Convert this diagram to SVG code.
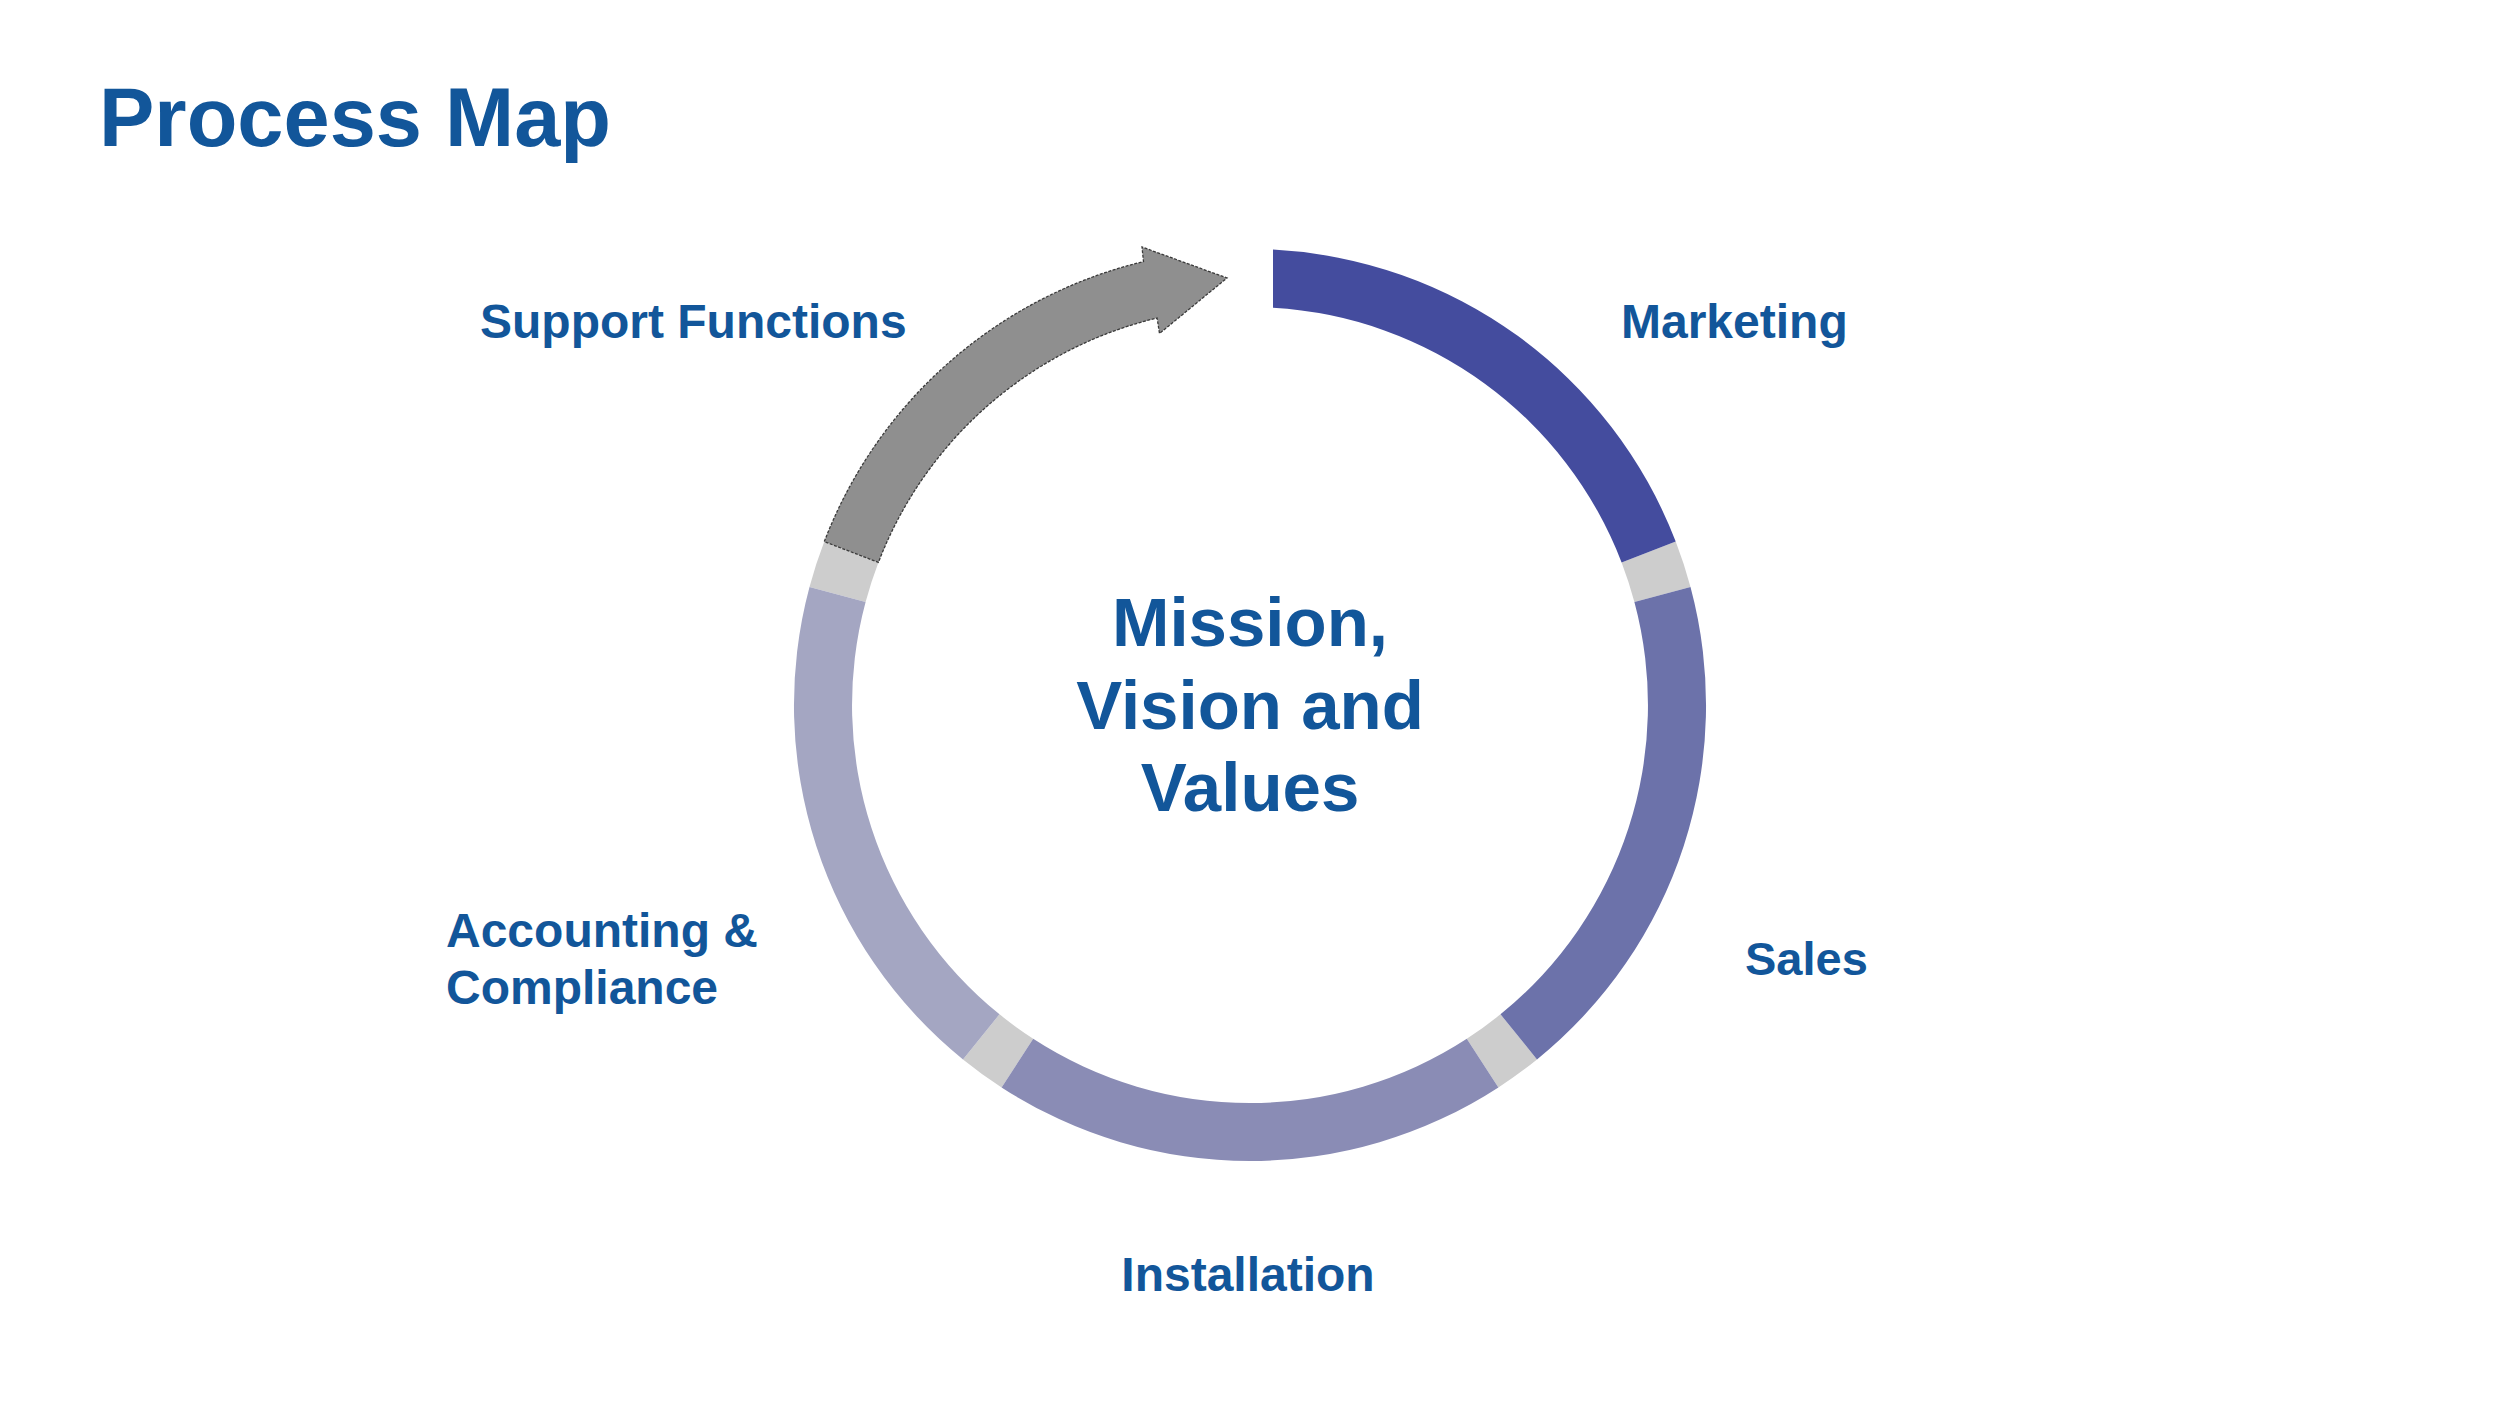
<svg xmlns="http://www.w3.org/2000/svg" width="2500" height="1407" viewBox="0 0 2500 1407">
<style>
.t{font-family:"Liberation Sans",Arial,sans-serif;font-weight:bold;fill:#12569A}
.lbl{font-size:48px}
.gap{fill:#CDCDCD}
</style>
<rect width="2500" height="1407" fill="#FFFFFF"/>
<text class="t" x="99" y="146" font-size="83">Process Map</text>
<g id="connectors">
<path class="gap" d="M1675.7,541.6 A456,456 0 0 1 1690.5,587.0 L1634.4,602.0 A398,398 0 0 0 1621.6,562.4 Z"/>
<path class="gap" d="M1537.0,1059.4 A456,456 0 0 1 1498.4,1087.4 L1466.8,1038.8 A398,398 0 0 0 1500.5,1014.3 Z"/>
<path class="gap" d="M1001.6,1087.4 A456,456 0 0 1 963.0,1059.4 L999.5,1014.3 A398,398 0 0 0 1033.2,1038.8 Z"/>
<path class="gap" d="M809.5,587.0 A456,456 0 0 1 824.3,541.6 L878.4,562.4 A398,398 0 0 0 865.6,602.0 Z"/>
</g>
<g id="marketing">
<path fill="#444C9E" d="M1273,249.6 A456,456 0 0 1 1675.7,541.6 L1621.6,562.4 A398,398 0 0 0 1273,307.7 Z"/>
<text class="t lbl" x="1621" y="338">Marketing</text>
</g>
<g id="sales">
<path fill="#6C72AA" d="M1690.5,587.0 A456,456 0 0 1 1537.0,1059.4 L1500.5,1014.3 A398,398 0 0 0 1634.4,602.0 Z"/>
<text class="t" x="1745" y="975" font-size="47">Sales</text>
</g>
<g id="installation">
<path fill="#8A8CB5" d="M1498.4,1087.4 A456,456 0 0 1 1001.6,1087.4 L1033.2,1038.8 A398,398 0 0 0 1466.8,1038.8 Z"/>
<text class="t lbl" x="1248" y="1291" text-anchor="middle">Installation</text>
</g>
<g id="accounting-compliance">
<path fill="#A4A6C2" d="M963.0,1059.4 A456,456 0 0 1 809.5,587.0 L865.6,602.0 A398,398 0 0 0 999.5,1014.3 Z"/>
<text class="t lbl" x="446" y="947">Accounting &amp;</text>
<text class="t lbl" x="446" y="1004">Compliance</text>
</g>
<g id="support-functions">
<path fill="#8F8F8F" stroke="#3A3A3A" stroke-width="1.3" stroke-dasharray="3 1.5" d="M824.3,541.6 A456,456 0 0 1 1143.5,261.6 L1142,247 L1227,278 L1159.5,333.5 L1157.1,318.0 A398,398 0 0 0 878.4,562.4 Z"/>
<text class="t lbl" x="480" y="338">Support Functions</text>
</g>
<g id="center">
<text class="t" font-size="69" text-anchor="middle"><tspan x="1250" y="646">Mission,</tspan><tspan x="1250" y="729">Vision and</tspan><tspan x="1250" y="811">Values</tspan></text>
</g>
</svg>
